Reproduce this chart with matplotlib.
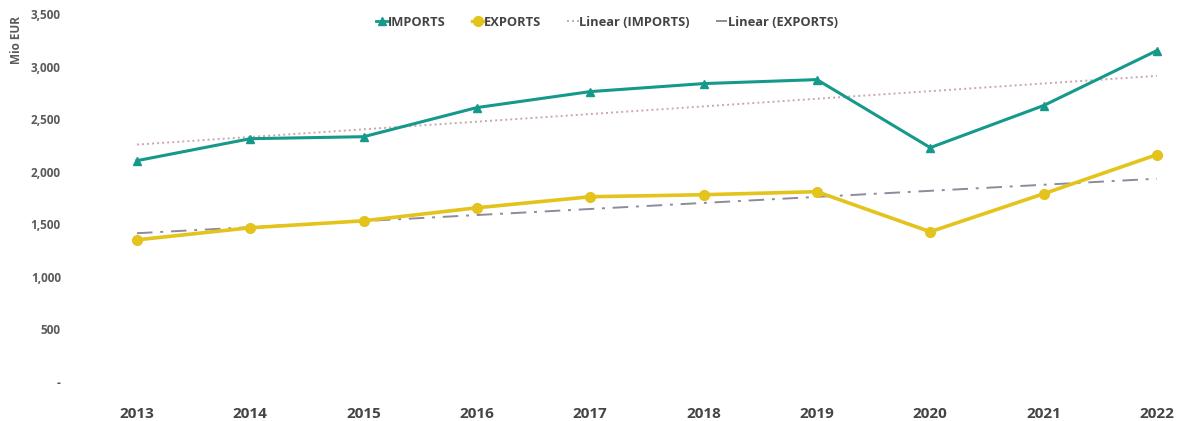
import numpy as np
import matplotlib
matplotlib.use("Agg")
import matplotlib.pyplot as plt
from matplotlib.lines import Line2D

years = [2013, 2014, 2015, 2016, 2017, 2018, 2019, 2020, 2021, 2022]
imports = [2105, 2314, 2333, 2610, 2762, 2838, 2876, 2229, 2629, 3152]
exports = [1352, 1467, 1533, 1657, 1762, 1781, 1810, 1429, 1790, 2162]
y_ticks = [0, 500, 1000, 1500, 2000, 2500, 3000, 3500]
y_tick_labels = ["-", "500", "1,000", "1,500", "2,000", "2,500", "3,000", "3,500"]

IMP_COLOR = "#14998a"
EXP_COLOR = "#e3c31c"
IMP_TREND = "#c9a7ad"
EXP_TREND = "#8e8a9c"
TEXT = "#5a5a5a"

plt.rcParams["font.family"] = ["Open Sans", "DejaVu Sans"]

W, H = 1180, 421
fig = plt.figure(figsize=(W / 100, H / 100), dpi=100)
ax = fig.add_axes([65 / W, (H - 382) / H, (1175 - 65) / W, (382 - 14) / H])

x = np.array(years, dtype=float)
imp_fit = np.polyval(np.polyfit(x, imports, 1), x)
exp_fit = np.polyval(np.polyfit(x, exports, 1), x)

ax.plot(x, imp_fit, color=IMP_TREND, lw=1.4, ls=(0, (1, 1.6)), zorder=2)
ax.plot(x, exp_fit, color=EXP_TREND, lw=1.4, ls=(0, (8, 4, 1.5, 4)), zorder=2)
ax.plot(x, imports, color=IMP_COLOR, lw=2.2, marker="^", ms=6, zorder=3)
ax.plot(x, exports, color=EXP_COLOR, lw=2.6, marker="o", ms=7, zorder=3)

ax.set_xlim(2012.365, 2022.16)
ax.set_ylim(0, 3500)
ax.set_xticks(years)
ax.set_xticklabels([str(y) for y in years], fontsize=11, fontweight="bold",
                   color="#444444")
ax.set_yticks(y_ticks)
ax.set_yticklabels(y_tick_labels, fontsize=8.5, fontweight="bold", color=TEXT)
ax.tick_params(axis="both", length=0)
ax.tick_params(axis="x", pad=18)
ax.tick_params(axis="y", pad=3)
for s in ax.spines.values():
    s.set_visible(False)

fig.text(17 / W, 1 - 40 / H, "Mio EUR", rotation=90, ha="center", va="center",
         fontsize=8.5, fontweight="bold", color=TEXT)

handles = [
    Line2D([], [], color=IMP_COLOR, lw=2, marker="^", ms=6),
    Line2D([], [], color=EXP_COLOR, lw=2.4, marker="o", ms=7),
    Line2D([], [], color=IMP_TREND, lw=1.4, ls=(0, (1, 1.6))),
    Line2D([], [], color=EXP_TREND, lw=1.4, ls=(0, (8, 4, 1.5, 4))),
]
labels = ["IMPORTS", "EXPORTS", "Linear (IMPORTS)", "Linear (EXPORTS)"]
leg = fig.legend(handles, labels, loc="center", bbox_to_anchor=(607 / W, 1 - 22 / H),
                 ncol=4, frameon=False, handlelength=0.9, handletextpad=0.05,
                 columnspacing=2.0, prop={"size": 9.3, "weight": "bold"})
for t in leg.get_texts():
    t.set_color("#444444")

fig.savefig("out.png", dpi=100, facecolor="white")
